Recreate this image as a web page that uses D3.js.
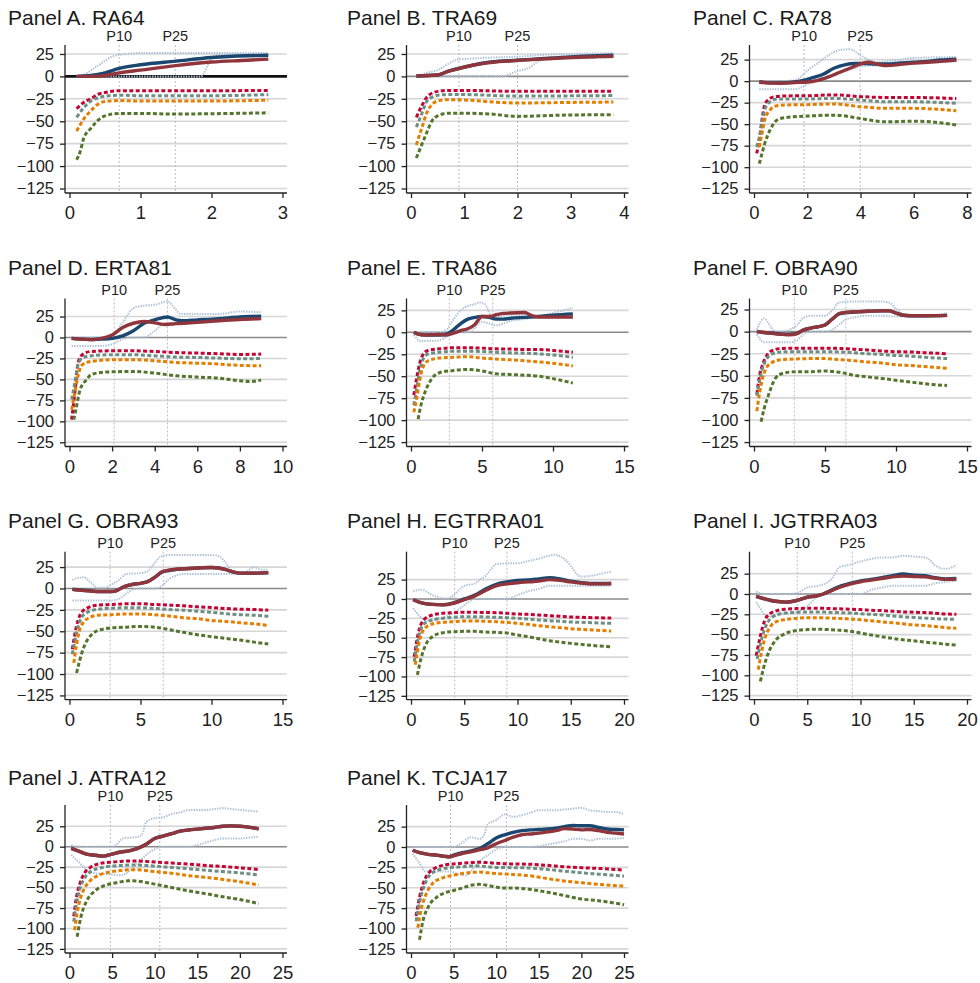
<!DOCTYPE html>
<html>
<head>
<meta charset="utf-8">
<script src="https://cdn.jsdelivr.net/npm/d3@7"></script>
<style>
  body { margin: 0; background: #fff; }
  svg { display: block; }
  text { font-family: "Liberation Sans", Arial, Helvetica, sans-serif; }
</style>
</head>
<body>
<svg width="980" height="983"></svg>
<script>
// ---- panel meta ----
var titles = ["Panel A. RA64", "Panel B. TRA69", "Panel C. RA78", "Panel D. ERTA81",
  "Panel E. TRA86", "Panel F. OBRA90", "Panel G. OBRA93", "Panel H. EGTRRA01",
  "Panel I. JGTRRA03", "Panel J. ATRA12", "Panel K. TCJA17"];
var p10 = [0.70, 0.90, 1.88, 2.1, 2.7, 2.84, 2.86, 4.1, 4.06, 4.8, 4.64];
var p25 = [1.49, 2.0, 3.99, 4.6, 5.76, 6.47, 6.6, 9.0, 9.23, 10.6, 11.2];
var xMax = [3, 4, 8, 10, 15, 15, 15, 20, 20, 25, 25];
var xStep = [1, 1, 2, 2, 5, 5, 5, 5, 5, 5, 5];
var yTop = [35, 35, 42, 46.5, 38.5, 37.5, 43, 61, 52, 51, 51.5];
var yBottom = -130;
var yTicks = [-125, -100, -75, -50, -25, 0, 25];

// ---- Panel A ----
var aBlue = [[0.1,0],[0.3,1],[0.5,4],[0.7,9],[1.0,13],[1.5,17],[2.0,21],[2.5,23],[2.8,23.5]];
var aMaroon = [[0.1,0],[0.3,0],[0.5,1],[0.7,4],[1.0,7],[1.5,12],[2.0,16],[2.5,18],[2.8,19.3]];
var aHi = [[0.1,0],[0.2,2],[0.4,12],[0.6,22],[0.8,25],[1.0,26],[1.5,26],[2.0,26],[2.8,26]];
var aLo = [[0.1,0],[0.5,0],[1.0,0],[1.5,0],[1.85,0],[2.0,20],[2.1,24],[2.5,24],[2.8,24]];
var aRed = [[0.1,-36],[0.2,-29],[0.3,-25],[0.4,-20],[0.5,-18],[0.7,-16],[1.0,-16],[1.5,-16],[2.0,-16],[2.5,-15.8],[2.8,-15.6]];
var aTeal = [[0.1,-45.6],[0.2,-35],[0.3,-27.5],[0.4,-24],[0.5,-22],[0.7,-21],[1.0,-21.5],[1.5,-21.5],[2.0,-21.5],[2.5,-21],[2.8,-20.3]];
var aOrange = [[0.1,-61],[0.2,-47.5],[0.3,-38.4],[0.4,-31],[0.5,-28],[0.7,-27],[1.0,-27.5],[1.5,-27.5],[2.0,-27.5],[2.5,-27],[2.8,-26.5]];
var aGreen = [[0.1,-93],[0.15,-84],[0.2,-69],[0.3,-58],[0.4,-49],[0.5,-44],[0.7,-41.3],[1.0,-41.3],[1.5,-42],[2.0,-41.6],[2.5,-41],[2.8,-40.6]];

// ---- Panel B ----
var bBlue = [[0.1,0.5],[0.5,1.5],[0.7,6],[0.9,9],[1.2,13],[1.5,16],[2.0,18],[2.5,20],[3.0,21.8],[3.5,23],[3.8,23.5]];
var bMaroon = [[0.1,0.5],[0.5,1.5],[0.7,5.5],[0.9,8.7],[1.2,13],[1.5,15.5],[2.0,17.8],[2.5,19.5],[3.0,21],[3.5,22],[3.8,22.5]];
var bHi = [[0.1,0],[0.3,4],[0.5,7],[0.7,14],[0.9,19],[1.2,20],[1.5,21],[2.0,22],[2.5,24],[3.0,25],[3.8,26]];
var bLo = [[0.1,0],[0.5,0],[1.0,0],[1.5,0],[1.7,0],[2.0,6],[2.2,9],[2.4,17],[2.6,19],[3.0,20],[3.8,21]];
var bRed = [[0.1,-45.6],[0.2,-33],[0.3,-23],[0.4,-18.5],[0.5,-16.7],[0.7,-15.6],[1.0,-15.6],[2.0,-16.7],[3.0,-16.7],[3.8,-16.7]];
var bTeal = [[0.1,-56.5],[0.2,-42],[0.3,-27.5],[0.4,-23],[0.5,-21],[0.7,-20.3],[1.0,-20.3],[2.0,-22],[3.0,-21.7],[3.8,-21.4]];
var bOrange = [[0.1,-76.4],[0.2,-58],[0.3,-40],[0.4,-31],[0.5,-27.5],[0.7,-26],[1.0,-26.4],[2.0,-29.7],[3.0,-29],[3.8,-28.6]];
var bGreen = [[0.1,-91],[0.2,-76.4],[0.3,-62],[0.4,-49],[0.5,-44],[0.7,-41],[1.0,-41],[1.5,-42],[2.0,-44.6],[2.5,-43.8],[3.0,-43],[3.8,-42.8]];

// ---- Panel C ----
var cBlue = [[0.2,-1],[0.5,-2],[1.0,-2],[1.5,-1],[1.8,0.5],[2.2,4],[2.6,8],[3.0,15],[3.4,19],[3.8,20.5],[4.2,20.5],[4.6,20],[5.0,20],[5.5,21],[6.0,22],[6.5,23],[7.0,24.5],[7.6,25.5]];
var cMaroon = [[0.2,-1],[0.5,-2],[1.0,-2.5],[1.5,-1.5],[2.0,-1],[2.4,1],[2.8,5],[3.2,10],[3.6,15],[4.0,20],[4.3,22],[4.6,20],[5.0,18],[5.5,19.5],[6.0,21],[6.5,22],[7.0,23],[7.6,24.5]];
var cHi = [[0.2,0],[1.0,0],[1.5,1],[1.8,6],[2.0,12],[2.4,21],[2.8,30],[3.2,36],[3.6,37],[4.0,30],[4.3,25],[4.6,22],[5.0,23],[5.5,25],[6.0,27],[7.6,28]];
var cLo = [[0.2,-9.5],[1.0,-9.5],[1.5,-9.5],[1.8,-7],[2.2,0],[2.6,3],[3.0,6],[3.4,11],[3.8,15],[4.0,17],[4.3,18],[5.0,18],[6.0,20],[7.6,23]];
var cRed = [[0.1,-84],[0.2,-69],[0.3,-45],[0.4,-28],[0.6,-20],[0.8,-18],[1.2,-17.2],[2.0,-17],[3.0,-16],[4.0,-18],[5.0,-19],[6.0,-19],[7.6,-20.3]];
var cTeal = [[0.1,-76.5],[0.2,-65],[0.3,-49],[0.4,-33.6],[0.6,-24],[0.8,-21],[1.2,-20.8],[2.0,-20.7],[3.0,-20],[4.0,-22],[5.0,-24],[6.0,-24],[7.6,-25.8]];
var cOrange = [[0.2,-76.5],[0.3,-61],[0.4,-45],[0.6,-33.6],[0.8,-29],[1.2,-27.7],[2.0,-27.3],[3.0,-26.5],[4.0,-29.7],[5.0,-31.6],[6.0,-31.6],[7.6,-34.4]];
var cGreen = [[0.2,-96],[0.3,-84],[0.4,-72.7],[0.6,-57],[0.8,-47],[1.0,-43.4],[1.5,-41.4],[2.0,-40.6],[3.0,-39.5],[4.0,-43.4],[4.5,-46],[5.0,-47.3],[6.0,-46.5],[7.0,-48.4],[7.6,-51]];

// ---- Panel D ----
var dBlue = [[0.1,-1],[0.5,-2],[1.0,-2.5],[1.5,-2],[2.0,-1],[2.5,2],[3.0,8],[3.5,17],[4.0,21],[4.6,24.5],[5.0,21],[5.3,20],[6.0,21],[7.0,22.5],[8.0,24.5],[9.0,25.5]];
var dMaroon = [[0.1,-1],[0.5,-2],[1.0,-2.5],[1.5,-1],[2.0,3],[2.5,12],[3.0,17],[3.5,19],[4.0,17.5],[4.5,15.5],[5.0,16.5],[6.0,18],[7.0,20],[8.0,21.5],[9.0,22.5]];
var dHi = [[0.1,0],[1.0,0],[1.5,0],[2.0,2],[2.5,18],[3.0,35],[3.5,38],[4.0,39],[4.6,43],[5.0,33],[5.2,28],[6.0,28],[7.0,28],[8.0,31],[9.0,30]];
var dLo = [[0.1,-10],[1.0,-10],[1.5,-10],[2.0,-8],[2.5,-2],[3.0,0],[3.5,0],[4.0,8],[4.5,17],[5.0,17],[6.0,18],[7.0,20],[8.0,21],[9.0,22]];
var dRed = [[0.1,-98],[0.25,-66],[0.4,-30.5],[0.6,-20.6],[1.0,-16.7],[2.0,-15.9],[3.0,-15.9],[4.0,-16.7],[5.0,-18],[6.0,-18.6],[7.0,-19.4],[8.0,-20.2],[9.0,-19.8]];
var dTeal = [[0.1,-74],[0.25,-54],[0.4,-32.5],[0.6,-24.6],[1.0,-21.8],[2.0,-20.6],[3.0,-20.6],[4.0,-21.8],[5.0,-23.4],[6.0,-23.8],[7.0,-24.6],[8.0,-25.4],[9.0,-25]];
var dOrange = [[0.1,-86],[0.25,-66],[0.4,-46],[0.6,-32.5],[1.0,-28.6],[2.0,-26.6],[3.0,-26.6],[4.0,-27.8],[5.0,-29.8],[6.0,-30.6],[7.0,-31.7],[8.0,-33.3],[9.0,-33.7]];
var dGreen = [[0.2,-98],[0.3,-86],[0.5,-62],[0.8,-50.4],[1.0,-44.4],[1.5,-41.7],[2.0,-40.9],[3.0,-40.5],[4.0,-42.5],[5.0,-45.6],[6.0,-47.2],[7.0,-48.4],[8.0,-51.6],[8.5,-52.4],[9.0,-50.8]];

// ---- Panel E ----
var eBlue = [[0.2,0],[0.5,-2],[1.0,-3],[2.0,-3],[2.5,-2],[3.0,3],[3.5,10],[4.0,15],[4.5,17],[5.0,18],[5.5,17],[6.0,15],[6.5,15],[7.0,16],[8.0,17],[9.0,18],[10,19.5],[11.4,21]];
var eMaroon = [[0.2,0],[0.5,-2],[1.0,-3],[2.0,-2.5],[2.5,-3],[3.0,-1],[3.5,2],[4.0,4],[4.5,9],[5.0,18],[5.5,18],[6.0,20],[6.5,21.5],[7.0,22],[8.0,22.5],[8.5,19],[9.0,17.5],[10,17.5],[11.4,17.5]];
var eHi = [[0.2,0],[1.0,0],[2.0,0],[2.5,3],[3.0,15],[3.5,25],[4.0,30],[4.5,32],[4.8,34],[5.2,32],[5.6,20],[6.0,17],[7.0,20],[8.0,20],[9.0,19],[10,22],[11.4,28]];
var eLo = [[0.2,-3],[0.7,-10],[1.5,-10],[2.0,-9],[2.5,-5],[3.0,-1],[3.5,0],[4.0,0],[4.5,5],[5.0,12],[5.5,10],[6.0,8],[6.5,10],[7.0,13],[8.0,15],[9.0,17],[10,17],[11.4,17]];
var eRed = [[0.2,-71.5],[0.4,-52],[0.6,-36],[0.8,-26.6],[1.2,-20.7],[2.0,-18.8],[3.0,-17.6],[4.0,-17.6],[5.0,-18],[6.0,-18.8],[7.0,-19.1],[8.0,-19.5],[9.0,-19.5],[10,-20.7],[11.4,-22.7]];
var eTeal = [[0.2,-83],[0.4,-63.7],[0.6,-44],[0.8,-32.4],[1.2,-24.6],[2.0,-22.7],[3.0,-21.5],[4.0,-21.5],[5.0,-21.9],[6.0,-22.7],[7.0,-23.4],[8.0,-23.8],[9.0,-24.6],[10,-25.8],[11.4,-28.5]];
var eOrange = [[0.2,-91],[0.4,-75.4],[0.6,-56],[0.8,-42],[1.2,-32.4],[2.0,-29.3],[3.0,-28.5],[4.0,-27.7],[5.0,-29.3],[6.0,-30.5],[7.0,-31.3],[8.0,-32.4],[9.0,-33.6],[10,-35.2],[11.4,-38.3]];
var eGreen = [[0.5,-98.8],[0.7,-83],[1.0,-67.6],[1.5,-52],[2.0,-46],[3.0,-43.4],[4.0,-42.2],[5.0,-44],[6.0,-47.3],[7.0,-48],[8.0,-48.8],[9.0,-50],[10,-52.7],[11.4,-57.8]];

// ---- Panel F ----
var fBlue = [[0.2,0],[0.7,-1],[1.5,-2],[2.0,-3],[2.5,-3],[3.0,-2],[3.5,2],[4.0,4],[4.5,5.5],[5.0,7.5],[5.5,14],[6.0,20],[6.5,21.5],[7.0,22],[8.0,23],[9.0,23.5],[9.5,23.5],[10,21],[10.5,18.5],[11,18],[12,18],[13.6,18.4]];
var fMaroon = [[0.2,0],[0.7,-1],[1.5,-2.5],[2.0,-3],[2.5,-3.5],[3.0,-2.5],[3.5,2],[4.0,4],[4.5,5.5],[5.0,7.5],[5.5,14],[6.0,20.5],[6.5,22],[7.0,22.5],[8.0,23],[9.0,23.5],[9.5,23.5],[10,21],[10.5,18.5],[11,18],[12,18],[13.6,18.4]];
var fHi = [[0.2,2],[0.7,15],[1.2,5],[1.5,0],[2.0,0],[2.5,2],[3.0,7],[3.5,16],[4.0,18],[5.0,18],[5.5,24],[6.0,33],[7.0,34],[8.0,34],[9.0,34],[9.5,33],[10,26],[10.5,20],[11,18],[12,18],[13.6,21]];
var fLo = [[0.2,-3],[0.7,-12],[1.5,-12],[2.0,-12],[2.5,-12],[3.0,-10],[3.5,-3],[4.0,0],[5.0,0],[5.5,2],[6.0,8],[6.5,14],[7.0,16],[8.0,18],[9.0,18],[10,17],[11,17],[12,17],[13.6,17]];
var fRed = [[0.2,-70.7],[0.4,-49],[0.6,-37.5],[0.8,-29.7],[1.2,-22],[2.0,-19],[3.0,-18.8],[4.0,-18.8],[5.0,-18.8],[6.0,-19],[7.0,-19.8],[8.0,-20.7],[9.0,-21.9],[10,-22.7],[11,-23],[12,-23.8],[13.6,-25]];
var fTeal = [[0.2,-72.7],[0.4,-55],[0.6,-41.4],[0.8,-33.6],[1.2,-25.8],[2.0,-23],[3.0,-22.7],[4.0,-22.7],[5.0,-22.7],[6.0,-23],[7.0,-23.8],[8.0,-25],[9.0,-25.8],[10,-27],[11,-27.7],[12,-29],[13.6,-30.5]];
var fOrange = [[0.2,-90],[0.4,-68.7],[0.6,-53],[0.8,-43.4],[1.2,-35.5],[2.0,-31.6],[3.0,-30.9],[4.0,-30.5],[5.0,-30.5],[6.0,-31.6],[7.0,-32.8],[8.0,-34.4],[9.0,-35.5],[10,-37.5],[11,-38.3],[12,-39.5],[13.6,-41.4]];
var fGreen = [[0.5,-102],[0.7,-88],[1.0,-72.7],[1.5,-53],[2.0,-47.3],[3.0,-45.3],[4.0,-45.3],[5.0,-44.5],[6.0,-46],[7.0,-49.2],[8.0,-51.2],[9.0,-53],[10,-55],[11,-57],[12,-59],[13.6,-61]];

// ---- Panel G ----
var gBlue = [[0.2,-1],[1.0,-2],[2.0,-3.5],[3.0,-3.5],[3.2,-3],[3.6,0],[4.0,3],[4.5,5],[5.0,6],[5.5,8],[6.0,13],[6.5,19],[7.0,21],[8.0,23],[9.0,24],[10,24.5],[10.5,24],[11,22],[11.5,19.5],[12,18],[13,18],[14,18.5]];
var gMaroon = [[0.2,-1],[1.0,-2.5],[2.0,-3.5],[3.0,-3.5],[3.2,-3],[3.6,0],[4.0,3],[4.5,5],[5.0,6],[5.5,8],[6.0,13],[6.5,19.5],[7.0,21.5],[8.0,23],[9.0,24],[10,24.5],[10.5,24],[11,22],[11.5,19.5],[12,18],[13,18],[14,18.5]];
var gHi = [[0.2,10],[0.5,12],[1.0,13],[1.5,7],[2.0,1],[2.5,1],[3.0,5],[3.5,10],[4.0,17],[5.0,18],[5.5,20],[6.0,30],[6.5,38],[7.0,39],[8.0,39],[9.0,39],[10,39],[10.5,38],[11,30],[11.5,20],[12,18],[12.5,20],[13,25],[13.5,22],[14,22]];
var gLo = [[0.2,-14],[1.0,-14],[2.0,-14],[3.0,-14],[3.5,-12],[4.0,-6],[4.5,-1],[5.0,0],[6.0,0],[6.5,3],[7.0,11],[7.5,15],[8.0,17],[9.0,17],[10,17],[11,17],[12,17],[13,17],[14,17]];
var gRed = [[0.2,-71],[0.4,-51],[0.6,-37.3],[0.8,-29.4],[1.2,-23.4],[2.0,-19.4],[3.0,-18.7],[4.0,-17.9],[5.0,-17.9],[6.0,-18.7],[7.0,-19.4],[8.0,-20.2],[9.0,-21.4],[10,-22.2],[11,-23.4],[12,-24.2],[13,-24.6],[14,-25.4]];
var gTeal = [[0.2,-77],[0.4,-59],[0.6,-45],[0.8,-35.3],[1.2,-28.2],[2.0,-24.2],[3.0,-23],[4.0,-22.6],[5.0,-22.6],[6.0,-23.4],[7.0,-24.6],[8.0,-25.4],[9.0,-26.6],[10,-27.8],[11,-29.4],[12,-30.6],[13,-31.3],[14,-32.5]];
var gOrange = [[0.3,-87],[0.5,-65],[0.7,-49],[1.0,-39.3],[1.5,-33.3],[2.0,-31.3],[3.0,-30.6],[4.0,-29.8],[5.0,-29.8],[6.0,-30.6],[7.0,-32.1],[8.0,-34.1],[9.0,-35.3],[10,-37.3],[11,-38.5],[12,-40],[13,-41.3],[14,-43.3]];
var gGreen = [[0.5,-98.8],[0.7,-85],[1.0,-69],[1.5,-55],[2.0,-49.2],[3.0,-46],[4.0,-45.2],[5.0,-44.4],[6.0,-45.2],[7.0,-48],[8.0,-51.2],[9.0,-54],[10,-56.3],[11,-58.3],[12,-60.3],[13,-62.7],[14,-65]];

// ---- Panel H ----
var hBlue = [[0.2,-1],[1.0,-5],[2.0,-7],[3.0,-7.5],[4.0,-5],[5.0,0],[6.0,5],[7.0,13],[8.0,19],[9.0,22],[10,24],[11,24.5],[12,26],[13,27.5],[14,26],[15,23],[16,21],[17,20],[18,20],[18.8,20]];
var hMaroon = [[0.2,-1],[1.0,-5],[2.0,-7],[3.0,-7.5],[4.0,-5.5],[5.0,-1],[6.0,4],[7.0,11],[8.0,17],[9.0,19.5],[10,21],[11,22],[12,23],[13,25],[14,24],[15,22],[16,20.5],[17,19.5],[18,19.5],[18.8,20]];
var hHi = [[0.2,10],[1.0,12],[2.0,5],[3.0,1],[3.5,1],[4.0,5],[5.0,17],[6.0,20],[6.5,25],[7.0,30],[7.5,38],[8.0,45],[9.0,46],[10,46],[11,49],[12,52],[13,56],[13.5,57],[14,55],[15,43],[15.5,33],[16,29],[17,30],[18,33],[18.8,35]];
var hLo = [[0.2,-12],[0.8,-22],[1.5,-28],[2.5,-26],[3.0,-24],[4.0,-18],[5.0,-8],[5.5,-3],[6.0,0],[7.0,0],[8.0,0],[9.0,0],[10,5],[11,10],[12,13],[13,17],[14,17],[15,17],[16,17],[17,17],[18.8,17]];
var hRed = [[0.3,-74.6],[0.5,-57],[0.8,-38],[1.2,-27],[2.0,-20.7],[3.0,-18.5],[4.0,-17.7],[5.0,-17.2],[6.0,-17.2],[7.0,-17.5],[8.0,-17.7],[9.0,-18.5],[10,-19.4],[11,-19.8],[12,-20.7],[13,-21.5],[14,-22.4],[15,-23.3],[16,-23.7],[17,-24.1],[18.8,-24.6]];
var hTeal = [[0.3,-81],[0.5,-63.8],[0.8,-44.4],[1.2,-32.3],[2.0,-27.2],[3.0,-25],[4.0,-23.7],[5.0,-22.8],[6.0,-22.8],[7.0,-23.2],[8.0,-23.7],[9.0,-24.1],[10,-25],[11,-25.9],[12,-27.2],[13,-28],[14,-28.9],[15,-29.7],[16,-30.2],[17,-30.6],[18.8,-31.5]];
var hOrange = [[0.4,-85],[0.6,-68],[0.9,-48.7],[1.3,-38],[2.0,-32.3],[3.0,-30.2],[4.0,-29.3],[5.0,-28.4],[6.0,-28.4],[7.0,-28.9],[8.0,-29.3],[9.0,-30.2],[10,-31.5],[11,-32.8],[12,-34.5],[13,-35.8],[14,-37],[15,-38.4],[16,-39.2],[17,-40],[18.8,-41.4]];
var hGreen = [[0.6,-98],[0.9,-79],[1.3,-61.6],[2.0,-48.7],[3.0,-43.5],[4.0,-42.2],[5.0,-41.8],[6.0,-41.8],[7.0,-42.7],[8.0,-43.1],[9.0,-44],[10,-46.6],[11,-48.7],[12,-51.3],[13,-53.9],[14,-55.6],[15,-57.3],[16,-58.6],[17,-60],[18.8,-61.6]];

// ---- Panel I ----
var iBlue = [[0.2,-3],[1.0,-6],[2.0,-9],[3.0,-10],[4.0,-8],[5.0,-4],[6.0,-2],[6.5,0],[7.0,3],[8.0,9],[9.0,13],[10,16],[11,18],[12,20],[13,22.5],[14,24.5],[15,23],[16,22.5],[17,20],[18,18.5],[19,19]];
var iMaroon = [[0.2,-3],[1.0,-6],[2.0,-9],[3.0,-10],[4.0,-8],[5.0,-4],[6.0,-2],[6.5,0],[7.0,2.5],[8.0,8],[9.0,12],[10,15],[11,17],[12,19],[13,21],[14,22],[15,21.5],[16,21],[17,19.5],[18,18],[19,18.5]];
var iHi = [[0.2,3],[1.0,0],[2.0,0],[3.0,0],[4.0,1],[5.0,8],[6.0,10],[7.0,15],[7.5,22],[8.0,33],[9.0,36],[10,40],[11,43],[12,45],[13,45],[14,47],[15,46],[16,45],[16.5,42],[17,35],[18,31],[19,35]];
var iLo = [[0.2,-10],[0.6,-18],[1.0,-26],[1.5,-28],[2.5,-25],[4.0,-22],[5.0,-15],[6.0,-3],[7.0,0],[8.0,0],[9.0,0],[10,0],[11,5],[12,8],[13,10],[14,10],[15,10],[16,10],[17,13],[18,15],[19,16]];
var iRed = [[0.2,-76],[0.5,-57.5],[0.8,-41],[1.2,-28],[2.0,-21],[3.0,-18.7],[4.0,-18],[5.0,-17.5],[6.0,-17.5],[7.0,-17.9],[8.0,-18.3],[9.0,-18.7],[10,-19.2],[11,-20],[12,-20.4],[13,-21.2],[14,-22],[15,-22.4],[16,-22.9],[17,-23.7],[18,-24.6],[19,-25]];
var iTeal = [[0.3,-80],[0.6,-61.6],[0.9,-47],[1.3,-34.6],[2.0,-26.3],[3.0,-23.3],[4.0,-22.5],[5.0,-22],[6.0,-22],[7.0,-22.5],[8.0,-22.9],[9.0,-23.3],[10,-24.2],[11,-25],[12,-25.8],[13,-27],[14,-28],[15,-28.8],[16,-29.6],[17,-30.4],[18,-30.8],[19,-31.3]];
var iOrange = [[0.4,-93],[0.7,-72],[1.0,-55.4],[1.5,-40.8],[2.0,-34.6],[3.0,-31.3],[4.0,-30],[5.0,-29.2],[6.0,-29.2],[7.0,-29.6],[8.0,-30],[9.0,-30.8],[10,-31.7],[11,-33],[12,-34.2],[13,-35.4],[14,-36.7],[15,-38],[16,-38.75],[17,-40],[18,-41.3],[19,-42]];
var iGreen = [[0.6,-107.5],[0.9,-91],[1.3,-74],[2.0,-57.5],[3.0,-48.3],[4.0,-45],[5.0,-43.8],[6.0,-43.3],[7.0,-43.8],[8.0,-44.6],[9.0,-45.8],[10,-48],[11,-50.4],[12,-52.5],[13,-54.6],[14,-56.3],[15,-57.5],[16,-59.2],[17,-60.4],[18,-61.7],[19,-62.9]];

// ---- Panel J ----
var jBlue = [[0.2,-2],[1.0,-5],[2.0,-9],[3.0,-10.5],[4.0,-11.5],[5.0,-9],[6.0,-6.5],[7.0,-5],[8.0,-2],[9.0,3],[10,10],[11,13],[12,16],[13,19],[14,20.5],[15,21.5],[16,22.5],[17,23.5],[18,25],[19,25.5],[20,25],[21,24],[22.2,22]];
var jMaroon = [[0.2,-2],[1.0,-5],[2.0,-9],[3.0,-10.5],[4.0,-11.5],[5.0,-9],[6.0,-6.5],[7.0,-5],[8.0,-2],[9.0,3],[10,10],[11,13],[12,16],[13,19],[14,20.5],[15,21.5],[16,22.5],[17,23.5],[18,25],[19,25.5],[20,25],[21,24],[22.2,22]];
var jHi = [[0.2,2],[1.0,0],[2.0,0],[3.0,0],[4.0,0],[5.0,0],[5.5,2],[6.0,8],[6.5,11],[7.0,11],[8.0,12],[8.5,15],[9.0,30],[10,35],[11,36],[12,40],[13,42],[14,45],[15,45],[16,45],[17,46],[18,47],[19,46],[20,45],[21,44],[22.2,43]];
var jLo = [[0.2,-10],[1.0,-18],[2.0,-28],[2.5,-31],[3.5,-33],[5.0,-34],[6.0,-35],[7.0,-30],[8.0,-20],[9.0,-10],[10,-3],[11,0],[12,0],[13,0],[14,0],[15,2],[16,5],[17,8],[18,10],[19,10],[20,10],[21,11],[22.2,12]];
var jRed = [[0.5,-85],[0.8,-62.5],[1.2,-45.8],[1.7,-33.3],[2.5,-25],[3.5,-20.8],[5.0,-18.75],[6.0,-18],[7.0,-17.5],[8.0,-17.5],[9.0,-18],[10,-18.75],[12,-20],[14,-21.3],[16,-22.9],[18,-24.2],[20,-25.8],[22.2,-27.9]];
var jTeal = [[0.5,-91.7],[0.8,-70.8],[1.2,-52],[1.7,-39.6],[2.5,-30.4],[3.5,-26.3],[5.0,-23.75],[6.0,-23],[7.0,-22.5],[8.0,-22.5],[9.0,-23],[10,-23.75],[12,-25.4],[14,-27],[16,-28.75],[18,-30.4],[20,-32],[22.2,-34.6]];
var jOrange = [[0.6,-102],[0.9,-81],[1.3,-62.5],[1.8,-50],[2.5,-40.8],[3.5,-34.6],[5.0,-30.4],[6.0,-29.2],[7.0,-28.3],[8.0,-28.3],[9.0,-29.2],[10,-30.4],[12,-32.5],[14,-35.4],[16,-37.5],[18,-40],[20,-42.9],[22.2,-46.7]];
var jGreen = [[0.9,-110],[1.3,-87.5],[2.0,-66.7],[3.0,-54],[4.0,-48],[5.0,-45],[6.0,-43],[7.0,-41.7],[8.0,-42],[9.0,-43.75],[10,-45.8],[12,-50],[14,-54],[16,-57.5],[18,-61.25],[20,-64.6],[22.2,-69.6]];

// ---- Panel K ----
var kBlue = [[0.2,-4],[1.0,-7],[2.0,-9],[3.0,-10],[4.0,-11.5],[4.5,-12],[5.0,-10],[6.0,-7],[7.0,-5],[8.0,-2],[9.0,4],[10,11],[11,15],[12,18],[13,20],[14,21],[15,21.5],[16,22],[17,23],[18,25],[19,26.5],[20,26],[21,26],[22,24],[23,22],[24,21.5],[25,21]];
var kMaroon = [[0.2,-4],[1.0,-7],[2.0,-9],[3.0,-10],[4.0,-11.5],[4.5,-12],[5.0,-11],[6.0,-8],[7.0,-6],[8.0,-3.5],[9.0,-1],[10,4],[11,8],[12,12],[13,15],[14,16],[15,17],[16,18.5],[17,20],[18,22.5],[19,22],[20,21],[21,21.5],[22,20],[23,18],[24,17],[25,16]];
var kHi = [[0.2,0],[1.0,0],[3.0,0],[5.0,0],[6.0,5],[7.0,12],[8.0,10],[8.5,13],[9.0,28],[10,33],[11,40],[12,37],[13,39],[14,42],[15,45],[16,45],[17,45],[18,46],[19,47],[20,48],[21,45],[22,44],[23,43],[24,43],[25,40]];
var kLo = [[0.2,-8],[1.0,-20],[1.7,-30],[2.5,-30],[3.5,-30],[4.5,-30],[5.5,-33],[6.5,-35],[7.0,-30],[8.0,-18],[9.0,-10],[10,-3],[11,0],[12,0],[14,0],[15,1],[16,3],[17,5],[18,7],[19,10],[20,10],[21,8],[22,10],[23,10],[25,11]];
var kRed = [[0.6,-84.6],[1.0,-61.7],[1.5,-43],[2.2,-30.4],[3.0,-25],[4.0,-22],[5.0,-20.8],[6.0,-20],[7.0,-19.2],[8.0,-18.75],[9.0,-19.2],[10,-20],[12,-20.8],[14,-21.2],[16,-22.5],[18,-24.2],[20,-25.4],[22,-26.25],[25,-28.3]];
var kTeal = [[0.6,-91],[1.0,-68],[1.5,-49],[2.2,-34.6],[3.0,-29.2],[4.0,-26.25],[5.0,-25],[6.0,-24.2],[7.0,-23.3],[8.0,-23.3],[9.0,-24.2],[10,-25],[12,-25.4],[14,-25.8],[16,-27.5],[18,-29.6],[20,-31.7],[22,-33.3],[25,-35.8]];
var kOrange = [[0.8,-99],[1.2,-76],[1.7,-59.6],[2.5,-45],[3.5,-38.75],[5.0,-34.6],[6.0,-32.5],[7.0,-31.25],[8.0,-30.8],[9.0,-31.7],[10,-32.5],[12,-33.75],[14,-35.4],[16,-38.75],[18,-41.7],[20,-43.75],[22,-45.8],[25,-47.9]];
var kGreen = [[1.0,-113.75],[1.4,-90.8],[2.0,-74],[3.0,-61.7],[4.0,-56.25],[5.0,-53.3],[6.0,-50.4],[7.0,-47],[8.0,-45.8],[9.0,-47],[10,-49.2],[11,-50.4],[12,-50.4],[14,-52],[16,-55.4],[18,-59.6],[20,-63.75],[22,-65.8],[25,-70.8]];

// table of panels built from the arrays above
var seriesSets = [
  [aBlue, aMaroon, aHi, aLo, aRed, aTeal, aOrange, aGreen],
  [bBlue, bMaroon, bHi, bLo, bRed, bTeal, bOrange, bGreen],
  [cBlue, cMaroon, cHi, cLo, cRed, cTeal, cOrange, cGreen],
  [dBlue, dMaroon, dHi, dLo, dRed, dTeal, dOrange, dGreen],
  [eBlue, eMaroon, eHi, eLo, eRed, eTeal, eOrange, eGreen],
  [fBlue, fMaroon, fHi, fLo, fRed, fTeal, fOrange, fGreen],
  [gBlue, gMaroon, gHi, gLo, gRed, gTeal, gOrange, gGreen],
  [hBlue, hMaroon, hHi, hLo, hRed, hTeal, hOrange, hGreen],
  [iBlue, iMaroon, iHi, iLo, iRed, iTeal, iOrange, iGreen],
  [jBlue, jMaroon, jHi, jLo, jRed, jTeal, jOrange, jGreen],
  [kBlue, kMaroon, kHi, kLo, kRed, kTeal, kOrange, kGreen]
];

// ---- layout / style ----
var colX = [65, 406.5, 749.5];
var titleX = [8, 347, 693];
var rowTop = [45, 298.5, 551.7, 805];
var titleBase = [25, 275, 528, 785];
var plotW = 222, plotH = 148;
var navy = "#1a476f", maroon = "#90353b";
var dashCols = ["#c10534", "#6e8e84", "#e37e00", "#55752f"];
var ciCol = "#adc1d6";

var svg = d3.select("svg");

titles.forEach(function(t, i) {
  var col = i % 3, row = Math.floor(i / 3);
  var x0 = colX[col], top = rowTop[row], bot = top + plotH;
  var s = seriesSets[i];

  var x = d3.scaleLinear().domain([0, xMax[i]]).range([x0 + 4.5, x0 + 217.5]);
  var y = d3.scaleLinear().domain([yBottom, yTop[i]]).range([bot, top]);
  var line = d3.line().x(function(d) { return x(d[0]); }).y(function(d) { return y(d[1]); })
      .curve(d3.curveMonotoneX);

  var g = svg.append("g");

  // title
  g.append("text").attr("x", titleX[col]).attr("y", titleBase[row])
    .attr("font-size", 21).attr("fill", "#1a1a1a").text(t);

  // gridlines
  g.selectAll(".grid").data(yTicks.filter(function(v) { return v !== 0; })).enter()
    .append("line")
      .attr("x1", x0).attr("x2", x0 + plotW)
      .attr("y1", function(v) { return y(v); }).attr("y2", function(v) { return y(v); })
      .attr("stroke", "#d6d6d6").attr("stroke-width", 1.6);

  // zero line
  g.append("line").attr("x1", x0).attr("x2", x0 + plotW).attr("y1", y(0)).attr("y2", y(0))
    .attr("stroke", i === 0 ? "#111" : "#8a8a8a").attr("stroke-width", i === 0 ? 2.8 : 1.6);

  // P10 / P25 markers
  [[p10[i], "P10"], [p25[i], "P25"]].forEach(function(p) {
    g.append("line").attr("x1", x(p[0])).attr("x2", x(p[0])).attr("y1", top).attr("y2", bot)
      .attr("stroke", "#b5b5b5").attr("stroke-width", 0.9).attr("stroke-dasharray", "2,2");
    g.append("text").attr("x", x(p[0])).attr("y", top - 4).attr("text-anchor", "middle")
      .attr("font-size", 14.5).attr("fill", "#222").text(p[1]);
  });

  // confidence bounds
  [s[2], s[3]].forEach(function(d) {
    g.append("path").datum(d).attr("d", line).attr("fill", "none")
      .attr("stroke", ciCol).attr("stroke-width", 2).attr("stroke-dasharray", "1.4,1.2");
  });

  // dashed series
  [s[4], s[5], s[6], s[7]].forEach(function(d, k) {
    g.append("path").datum(d).attr("d", line).attr("fill", "none")
      .attr("stroke", dashCols[k]).attr("stroke-width", 3).attr("stroke-dasharray", "4,2.4");
  });

  // main lines
  g.append("path").datum(s[0]).attr("d", line).attr("fill", "none")
    .attr("stroke", navy).attr("stroke-width", 3.4);
  g.append("path").datum(s[1]).attr("d", line).attr("fill", "none")
    .attr("stroke", maroon).attr("stroke-width", 3.4);

  // y axis
  var yAx = g.append("g").attr("transform", "translate(" + x0 + ",0)")
    .call(d3.axisLeft(y).tickValues(yTicks).tickSize(5).tickPadding(6)
      .tickFormat(function(v) { return v < 0 ? "\u2212" + Math.abs(v) : v; }));
  yAx.select(".domain").attr("d", "M0," + top + "V" + bot).attr("stroke", "#222").attr("stroke-width", 1.3);
  yAx.selectAll(".tick line").attr("stroke", "#222").attr("stroke-width", 1.3);
  yAx.selectAll("text").attr("font-size", 16.5).attr("fill", "#222")
    .attr("font-family", "Liberation Sans, Arial, sans-serif");

  // x axis
  var xAx = g.append("g").attr("transform", "translate(0," + bot + ")")
    .call(d3.axisBottom(x).tickValues(d3.range(0, xMax[i] + 0.001, xStep[i])).tickSize(5).tickPadding(8)
      .tickFormat(d3.format("d")));
  xAx.select(".domain").attr("d", "M" + x0 + ",0H" + (x0 + plotW)).attr("stroke", "#222").attr("stroke-width", 1.3);
  xAx.selectAll(".tick line").attr("stroke", "#222").attr("stroke-width", 1.3);
  xAx.selectAll("text").attr("font-size", 18.5).attr("fill", "#222")
    .attr("font-family", "Liberation Sans, Arial, sans-serif");
});
</script>
</body>
</html>
